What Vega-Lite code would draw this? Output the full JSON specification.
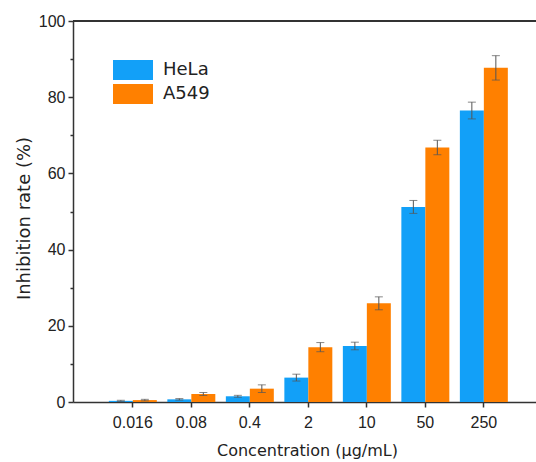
{
  "$schema": "https://vega.github.io/schema/vega-lite/v6.json",
  "width": 463,
  "height": 381,
  "autosize": {"type": "none"},
  "padding": {"left": 73, "top": 21, "right": 0, "bottom": 60},
  "background": "white",
  "config": {
    "font": "Liberation Sans",
    "view": {"stroke": null},
    "axis": {"domainColor": "#333333", "domainWidth": 1.5, "tickColor": "#333333", "tickWidth": 1.5, "labelColor": "#222222", "titleColor": "#222222", "labelFont": "Liberation Sans", "titleFont": "DejaVu Sans", "titleFontWeight": "normal", "grid": false}
  },
  "data": {
    "values": [
      {"conc": "0.016", "cell": "HeLa", "rate": 0.3, "err": 0.15},
      {"conc": "0.016", "cell": "A549", "rate": 0.5, "err": 0.2},
      {"conc": "0.08", "cell": "HeLa", "rate": 0.7, "err": 0.2},
      {"conc": "0.08", "cell": "A549", "rate": 2.1, "err": 0.4},
      {"conc": "0.4", "cell": "HeLa", "rate": 1.5, "err": 0.25},
      {"conc": "0.4", "cell": "A549", "rate": 3.5, "err": 1.0},
      {"conc": "2", "cell": "HeLa", "rate": 6.4, "err": 0.9},
      {"conc": "2", "cell": "A549", "rate": 14.4, "err": 1.2},
      {"conc": "10", "cell": "HeLa", "rate": 14.7, "err": 1.0},
      {"conc": "10", "cell": "A549", "rate": 25.9, "err": 1.7},
      {"conc": "50", "cell": "HeLa", "rate": 51.2, "err": 1.7},
      {"conc": "50", "cell": "A549", "rate": 66.8, "err": 1.9},
      {"conc": "250", "cell": "HeLa", "rate": 76.5, "err": 2.2},
      {"conc": "250", "cell": "A549", "rate": 87.7, "err": 3.2}
    ]
  },
  "layer": [
    {
      "mark": {"type": "bar"},
      "encoding": {
        "x": {
          "field": "conc", "type": "nominal",
          "sort": ["0.016", "0.08", "0.4", "2", "10", "50", "250"],
          "scale": {"paddingInner": 0.18, "paddingOuter": 0.547, "align": 0.56},
          "axis": {"title": "Concentration (μg/mL)", "labelAngle": 0, "labelFontSize": 16, "titleFontSize": 16, "tickSize": 5, "labelPadding": 7, "titleX": 234, "titleY": 53, "titleBaseline": "alphabetic", "titleAlign": "center"}
        },
        "xOffset": {"field": "cell", "type": "nominal", "sort": ["HeLa", "A549"], "scale": {"paddingInner": 0, "paddingOuter": 0}},
        "y": {
          "field": "rate", "type": "quantitative",
          "scale": {"domain": [0, 100], "nice": false},
          "axis": {"title": "Inhibition rate (%)", "values": [0, 20, 40, 60, 80, 100], "labelFontSize": 16, "titleFontSize": 18, "tickSize": 5, "labelPadding": 3, "titleX": -44, "titleY": 197, "titleBaseline": "alphabetic", "titleAlign": "center", "titleAngle": -90}
        },
        "color": {
          "field": "cell", "type": "nominal", "sort": ["HeLa", "A549"],
          "scale": {"domain": ["HeLa", "A549"], "range": ["#12A0F8", "#FF8000"]},
          "legend": {
            "title": null, "orient": "none", "legendX": 50, "legendY": 39, "padding": 0,
            "symbolType": "M-2,-1H2V1H-2Z", "symbolSize": 400, "symbolStrokeWidth": 0, "symbolOpacity": 1,
            "labelFontSize": 18, "labelColor": "#222222", "labelOffset": 20, "rowPadding": 4, "labelFont": "DejaVu Sans"
          }
        }
      }
    },
    {
      "mark": {"type": "errorbar", "ticks": {"size": 8, "color": "#555555", "thickness": 1}, "rule": {"color": "#555555", "strokeWidth": 1}},
      "encoding": {
        "x": {"field": "conc", "type": "nominal", "sort": ["0.016", "0.08", "0.4", "2", "10", "50", "250"]},
        "xOffset": {"field": "cell", "type": "nominal", "sort": ["HeLa", "A549"]},
        "y": {"field": "rate", "type": "quantitative", "axis": null},
        "yError": {"field": "err"}
      }
    },
    {
      "mark": {"type": "rule", "color": "#333333", "strokeWidth": 1.5},
      "encoding": {
        "y": {"datum": 100, "type": "quantitative", "axis": {"orient": "left", "values": [10, 30, 50, 70, 90], "labels": false, "domain": false, "tickSize": 3, "title": null}}
      }
    }
  ],
  "resolve": {"axis": {"y": "independent"}}
}
